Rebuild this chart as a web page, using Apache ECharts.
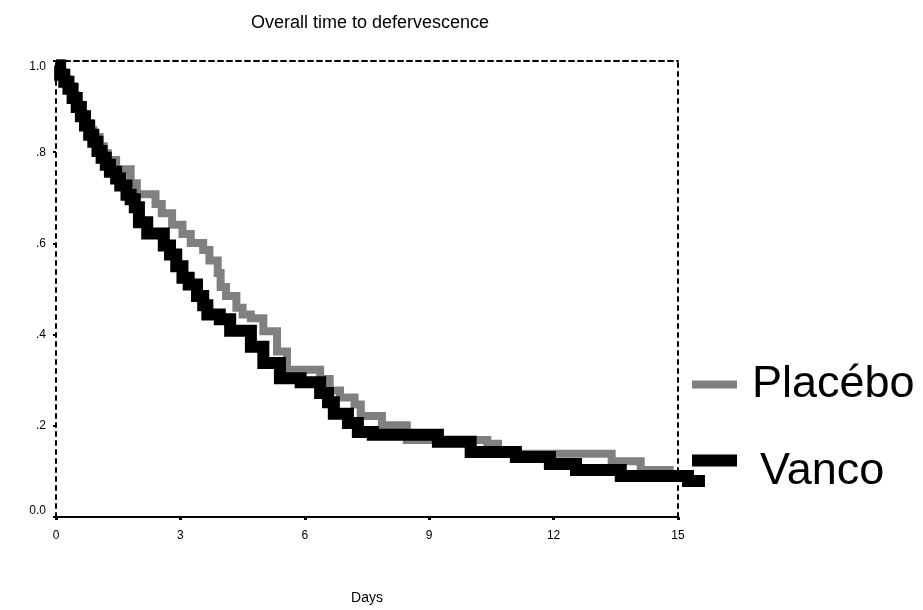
<!DOCTYPE html>
<html>
<head>
<meta charset="utf-8">
<script src="https://cdn.jsdelivr.net/npm/echarts@6/dist/echarts.min.js"></script>
<style>
html,body{margin:0;padding:0;background:#fff;}
#chart{width:923px;height:610px;}
</style>
</head>
<body>
<div id="chart"></div>
<script>
// ---- data ----
const titleText = 'Overall time to defervescence';
const xAxisTitle = 'Days';
const seriesNames = ['Placébo', 'Vanco'];
const xTickValues = [0, 3, 6, 9, 12, 15];
const yTickLabels = ['0.0', '.2', '.4', '.6', '.8', '1.0'];

const placeboDays = [0, 0.1, 0.2, 0.3, 0.4, 0.5, 0.6, 0.7, 0.8, 0.9, 1.05, 1.15, 1.25, 1.45, 1.8, 1.95, 2.4, 2.55, 2.8, 3.05, 3.25, 3.55, 3.7, 3.9, 3.97, 4.1, 4.35, 4.5, 4.7, 5.0, 5.33, 5.57, 6.37, 6.6, 6.85, 7.2, 7.35, 7.86, 8.46, 9.98, 10.4, 10.66, 10.9, 13.4, 14.1, 14.8, 15.3];
const placeboSurv = [0.995, 0.975, 0.96, 0.945, 0.925, 0.905, 0.885, 0.865, 0.85, 0.835, 0.815, 0.80, 0.785, 0.765, 0.735, 0.711, 0.69, 0.67, 0.645, 0.625, 0.605, 0.59, 0.567, 0.54, 0.51, 0.49, 0.465, 0.45, 0.442, 0.414, 0.37, 0.33, 0.31, 0.285, 0.27, 0.255, 0.23, 0.21, 0.178, 0.178, 0.17, 0.155, 0.148, 0.132, 0.113, 0.10, 0.10];

const vancoDays = [0, 0.1, 0.2, 0.3, 0.4, 0.5, 0.6, 0.7, 0.8, 0.9, 1.0, 1.1, 1.2, 1.3, 1.45, 1.55, 1.7, 1.8, 1.9, 2.0, 2.2, 2.6, 2.75, 2.9, 3.05, 3.2, 3.4, 3.55, 3.65, 3.95, 4.2, 4.7, 5.0, 5.4, 5.9, 6.37, 6.56, 6.7, 7.04, 7.28, 7.64, 9.21, 10.0, 11.09, 11.91, 12.54, 13.62, 15.24, 15.65];
const vancoSurv = [0.99, 0.97, 0.955, 0.94, 0.92, 0.9, 0.88, 0.86, 0.84, 0.825, 0.805, 0.79, 0.775, 0.76, 0.745, 0.73, 0.71, 0.70, 0.683, 0.65, 0.626, 0.60, 0.58, 0.555, 0.53, 0.515, 0.49, 0.47, 0.45, 0.44, 0.415, 0.38, 0.345, 0.312, 0.303, 0.28, 0.26, 0.235, 0.215, 0.195, 0.189, 0.174, 0.152, 0.141, 0.126, 0.113, 0.10, 0.089, 0.089];

function pairs(xs, ys) { return xs.map((x, i) => [x, ys[i]]); }

const FONT = 'Liberation Sans, Arial, sans-serif';
const chart = echarts.init(document.getElementById('chart'), null, {renderer: 'canvas'});

// plot frame: x 0..15 over 622px; curves run slightly past 15, so they live on a
// second, invisible grid with the same scale extended to 16.
const PX_PER_DAY = 622 / 15;
const dataGridRight = 923 - 56 - 16 * PX_PER_DAY;

const option = {
  backgroundColor: '#ffffff',
  animation: false,
  title: {
    text: titleText,
    left: 365,
    top: 9,
    textAlign: 'center',
    textStyle: {fontFamily: FONT, fontSize: 18, fontWeight: 'normal', color: '#000'}
  },
  legend: [
    {
      data: [seriesNames[0]],
      left: 692, top: 362, padding: 0,
      icon: 'rect', itemWidth: 45, itemHeight: 8,
      textStyle: {fontFamily: FONT, fontSize: 45, color: '#000', padding: [0, 0, 0, 10]}
    },
    {
      data: [seriesNames[1]],
      left: 692, top: 449, padding: 0,
      icon: 'path://M0,0L45,0L45,12L0,12ZM0,34Z', itemWidth: 45, itemHeight: 34,
      textStyle: {fontFamily: FONT, fontSize: 45, color: '#000', padding: [0, 0, 0, 18]}
    }
  ],
  grid: [
    {left: 56, right: 245, top: 61, bottom: 88, containLabel: false},
    {left: 56, right: dataGridRight, top: 61, bottom: 88, containLabel: false}
  ],
  xAxis: [
    {
      type: 'value', gridIndex: 0, min: 0, max: 15, interval: 3,
      name: xAxisTitle, nameLocation: 'middle', nameGap: 74,
      nameTextStyle: {fontFamily: FONT, fontSize: 14, color: '#000'},
      axisLine: {show: true, onZero: false, lineStyle: {color: '#000', width: 2}},
      axisTick: {show: true, length: 3, lineStyle: {color: '#000', width: 3}},
      axisLabel: {fontFamily: FONT, fontSize: 12, color: '#000', margin: 13,
        formatter: v => xTickValues.indexOf(v) >= 0 ? String(v) : ''},
      splitLine: {show: false}
    },
    {
      type: 'value', gridIndex: 0, min: 0, max: 15, position: 'top',
      axisLine: {show: true, onZero: false, lineStyle: {color: '#000', width: 2, type: [5, 4]}},
      axisTick: {show: false}, axisLabel: {show: false}, splitLine: {show: false}
    },
    {
      type: 'value', gridIndex: 1, min: 0, max: 16, show: false
    }
  ],
  yAxis: [
    {
      type: 'value', gridIndex: 0, min: 0, max: 1, interval: 0.2,
      axisLine: {show: true, onZero: false, lineStyle: {color: '#000', width: 2, type: [4, 5]}},
      axisTick: {show: true, length: 3, lineStyle: {color: '#000', width: 2}},
      axisLabel: {fontFamily: FONT, fontSize: 12, color: '#000', margin: 10,
        verticalAlignMinLabel: 'bottom', verticalAlignMaxLabel: 'top',
        formatter: v => yTickLabels[Math.round(v * 5)]},
      splitLine: {show: false}
    },
    {
      type: 'value', gridIndex: 0, min: 0, max: 1, position: 'right',
      axisLine: {show: true, onZero: false, lineStyle: {color: '#000', width: 2, type: [4, 5]}},
      axisTick: {show: false}, axisLabel: {show: false}, splitLine: {show: false}
    },
    {
      type: 'value', gridIndex: 1, min: 0, max: 1, show: false
    }
  ],
  series: [
    {
      name: seriesNames[0], type: 'line', step: 'end', clip: false,
      xAxisIndex: 2, yAxisIndex: 2,
      showSymbol: false, symbol: 'none',
      data: pairs(placeboDays, placeboSurv),
      itemStyle: {color: '#808080'},
      lineStyle: {color: '#808080', width: 8, join: 'miter', cap: 'butt'},
      z: 2
    },
    {
      name: seriesNames[1], type: 'line', step: 'end', clip: false,
      xAxisIndex: 2, yAxisIndex: 2,
      showSymbol: false, symbol: 'none',
      data: pairs(vancoDays, vancoSurv),
      itemStyle: {color: '#000000'},
      lineStyle: {color: '#000000', width: 12, join: 'miter', cap: 'butt'},
      z: 3
    }
  ]
};
chart.setOption(option);
</script>
</body>
</html>
